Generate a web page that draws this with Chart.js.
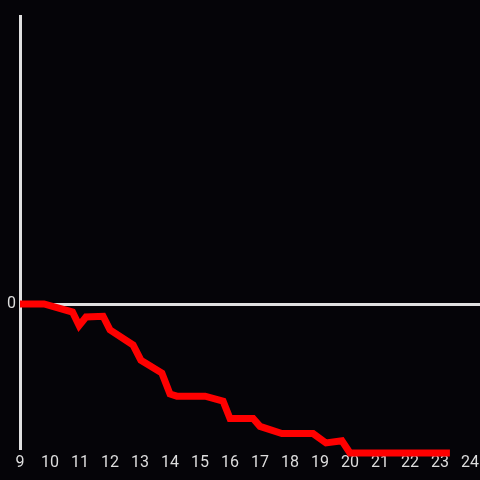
<!DOCTYPE html>
<html>
<head>
<meta charset="utf-8">
<script src="https://cdn.jsdelivr.net/npm/chart.js@4"></script>
<style>
  html, body { margin: 0; padding: 0; background: #050408; }
  #wrap { width: 480px; height: 480px; }
</style>
</head>
<body>
<div id="wrap"><canvas id="chart"></canvas></div>
<script>
xValues = [9.0, 9.8, 10.75, 10.97, 11.2, 11.77, 12.0, 12.77, 13.03, 13.73, 14.0, 14.23, 15.17, 15.77, 16.0, 16.77, 17.0, 17.73, 18.77, 19.2, 19.73, 20.0, 23.33];
yValues = [0, 0, -0.056, -0.15, -0.09, -0.085, -0.18, -0.285, -0.39, -0.48, -0.625, -0.64, -0.64, -0.675, -0.795, -0.795, -0.85, -0.9, -0.9, -0.965, -0.95, -1.035, -1.035];
xTickLabels = [9, 10, 11, 12, 13, 14, 15, 16, 17, 18, 19, 20, 21, 22, 23, 24];
yTickLabels = ["0"];

points = xValues.map((x, i) => ({ x: x, y: yValues[i] }));

new Chart("chart", {
     type: "line",

     data: {
          datasets: [{
               fill: false,
               pointRadius: 0,
               borderWidth: 7,
               borderColor: "#ff0000",
               tension: 0,
               clip: false,
               data: points
          }]
     },

     options: {
          responsive: true,
          maintainAspectRatio: false,
          animation: false,
          layout: { padding: { top: 16, right: 0 } },
          plugins: {
               legend: { display: false },
               tooltip: { enabled: false }
          },
          scales: {
               x: {
                    type: "linear",
                    min: 9,
                    max: 24.333,
                    afterBuildTicks: (s) => { s.ticks = xTickLabels.map(v => ({ value: v })); },
                    afterFit: (s) => { s.height = 32; },
                    border: { display: false },
                    grid: { display: false },
                    ticks: {
                         autoSkip: false,
                         maxRotation: 0,
                         padding: -3,
                         color: "#dddddd",
                         font: { family: "Roboto", size: 16 },
                         callback: (v) => String(v)
                    }
               },
               y: {
                    min: -1,
                    max: 2,
                    afterFit: (s) => { s.width = 20; },
                    border: { display: true, color: "#e0e0e0", width: 3 },
                    grid: {
                         drawTicks: false,
                         lineWidth: 3,
                         color: (ctx) => ctx.tick && ctx.tick.value === 0 ? "#e0e0e0" : "rgba(0,0,0,0)"
                    },
                    ticks: {
                         stepSize: 1,
                         padding: 4,
                         color: "#dddddd",
                         font: { family: "Roboto", size: 16 },
                         callback: (v) => v === 0 ? yTickLabels[0] : ""
                    }
               }
          }
     }
});
</script>
</body>
</html>
